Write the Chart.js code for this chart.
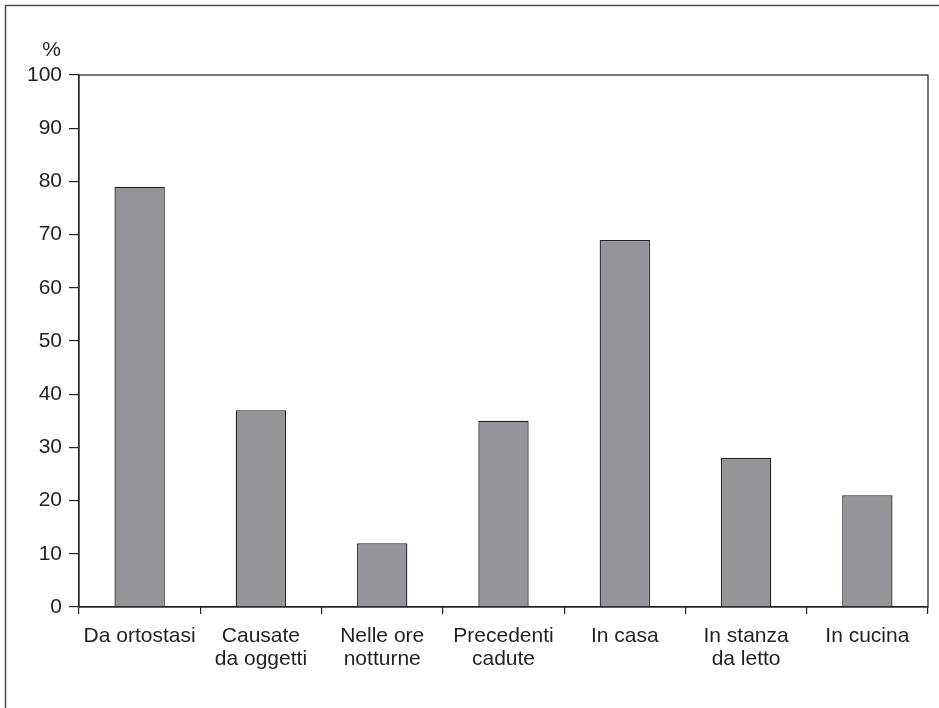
<!DOCTYPE html>
<html><head><meta charset="utf-8">
<script src="https://cdn.jsdelivr.net/npm/chart.js@4/dist/chart.umd.min.js"></script>
<style>html,body{margin:0;padding:0;background:#fff;}#wrap{width:939px;height:708px;position:relative;}</style>
</head><body><div id="wrap"><canvas id="c" width="939" height="708"></canvas></div>
<script>
const categories = [["Da ortostasi"],["Causate","da oggetti"],["Nelle ore","notturne"],["Precedenti","cadute"],["In casa"],["In stanza","da letto"],["In cucina"]];
const values = [79, 37, 12, 35, 69, 28, 21];
const yTicks = [0,10,20,30,40,50,60,70,80,90,100];
const yUnitLabel = "%";

const INK = '#231f20';
const FONT = '"Liberation Sans", Arial, Helvetica, sans-serif';
const FS = 21;

const framePlugin = {
  id: 'frame',
  afterDraw(chart) {
    const ctx = chart.ctx, a = chart.chartArea;
    ctx.save();
    ctx.strokeStyle = '#4d4d4f';
    ctx.lineWidth = 1.5;
    ctx.beginPath();
    ctx.moveTo(5.5, 708); ctx.lineTo(5.5, 5.5); ctx.lineTo(939, 5.5);
    ctx.stroke();
    ctx.strokeStyle = INK;
    ctx.lineWidth = 1.2;
    ctx.strokeRect(a.left, a.top, a.right - a.left, a.bottom - a.top);
    ctx.fillStyle = INK;
    ctx.font = FS + 'px ' + FONT;
    ctx.textAlign = 'right';
    ctx.textBaseline = 'middle';
    ctx.fillText(yUnitLabel, 61, 50);
    ctx.restore();
  }
};

new Chart(document.getElementById('c'), {
  type: 'bar',
  data: {
    labels: categories,
    datasets: [{
      data: values,
      backgroundColor: '#939598',
      borderColor: INK,
      borderWidth: 1.3,
      categoryPercentage: 1,
      barPercentage: 0.415
    }]
  },
  options: {
    responsive: false,
    animation: false,
    devicePixelRatio: 1,
    layout: { padding: { left: 0, right: 11, top: 75, bottom: 0 } },
    plugins: { legend: { display: false }, tooltip: { enabled: false } },
    scales: {
      x: {
        afterFit(s) { s.height = 101; },
        grid: { offset: true, drawOnChartArea: false, drawTicks: true, tickLength: 7, color: INK, lineWidth: 1.2 },
        border: { display: true, color: INK, width: 1.2 },
        ticks: { color: INK, font: { family: FONT, size: FS, lineHeight: 1.12 }, padding: 10, maxRotation: 0, autoSkip: false }
      },
      y: {
        min: 0, max: 100,
        afterFit(s) { s.width = 79; },
        afterBuildTicks(s) { s.ticks = yTicks.map(v => ({ value: v })); },
        grid: { drawOnChartArea: false, drawTicks: true, tickLength: 10, color: INK, lineWidth: 1.2 },
        border: { display: true, color: INK, width: 1.2 },
        ticks: { color: INK, font: { family: FONT, size: FS }, padding: 7 }
      }
    }
  },
  plugins: [framePlugin]
});
</script></body></html>
